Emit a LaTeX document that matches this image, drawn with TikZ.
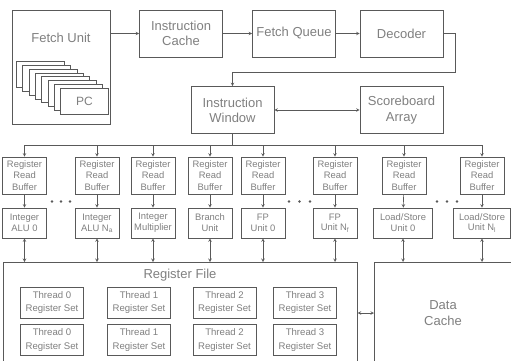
\documentclass[tikz,border=0pt]{standalone}
\usepackage{fontspec}
\setmainfont{Liberation Sans}
\usetikzlibrary{positioning}

\begin{document}
\begin{tikzpicture}[x=1pt,y=-1pt,>=stealth,line width=0.6pt,draw=black!65,
      every node/.style={text=black!50,inner sep=0pt,align=center},
      big node/.style={draw=black!65,minimum width=83pt,minimum height=47pt,font=\fontsize{13}{15.3}\selectfont},
      buffer node/.style={draw=black!65,minimum width=44pt,minimum height=37pt,font=\fontsize{9.4}{11.8}\selectfont},
      unit node/.style={draw=black!65,minimum height=30pt,font=\fontsize{9.4}{10.8}\selectfont},
      thread node/.style={draw=black!65,minimum width=63pt,minimum height=31pt,font=\fontsize{9.6}{13.3}\selectfont},
      pc node/.style={draw=black!65,fill=white,minimum width=48pt,minimum height=26pt,anchor=north west,font=\fontsize{12}{14}\selectfont}]
      \clip (0,0) rectangle (511,360);
      \fill[white] (0,0) rectangle (511,360);

      % front end
      \node[draw=black!65,minimum width=98pt,minimum height=114pt] (fu) at (61,67) {};
      \node[font=\fontsize{13}{15.3}\selectfont] (fulabel) at (61,38) {Fetch Unit};
      \foreach \i in {0,...,6}
        \node[pc node] (pc\i) at ({16+6.3*\i},{61+3.85*\i}) {};
      \node[pc node] (pc7) at ({16+6.3*7},{61+3.85*7}) {PC};

      \node[big node] (ic) at (181,33.5) {Instruction\\Cache};
      \node[big node] (fq) at (294,33.5) {Fetch Queue};
      \node[big node] (dec) at (401.5,33.5) {Decoder};
      \node[big node] (iw) at (232.5,110) {Instruction\\Window};
      \node[big node] (sa) at (401.5,110) {Scoreboard\\Array};
      \coordinate (turn) at (455,72);
      \coordinate (bus) at (232.5,145);

      \draw[->] (fu.east |- ic) -- (ic);
      \draw[->] (ic) -- (fq);
      \draw[->] (fq) -- (dec);
      \draw[->] (dec.east) -| (turn) -| (iw.north);
      \draw[<->] (iw) -- (sa);
      \draw (iw.south) -- (bus);

      % register read buffers
      \foreach \x [count=\i] in {24.5,97,153,210,263,335,404,482}
        \node[buffer node] (r\i) at (\x,175.5) {Register\\Read\\Buffer};

      % execution units
      \foreach \x/\w/\txt [count=\i] in {24.5/44/{Integer\\ALU 0},97/44/{Integer\\ALU N\textsubscript{a}},
          153/44/{Integer\\Multiplier},210/44/{Branch\\Unit},263/44/{FP\\Unit 0},
          335/44/{FP\\Unit N\textsubscript{f}},403/59/{Load/Store\\Unit 0},482/57/{Load/Store\\Unit N\textsubscript{l}}}
        \node[unit node,minimum width=\w pt] (u\i) at (\x,223) {\txt};

      % register file and data cache
      \node[draw=black!65,minimum width=354pt,minimum height=105pt,anchor=north west] (rf) at (3,262) {};
      \node[font=\fontsize{13}{15.3}\selectfont] (rflabel) at (180,275) {Register File};
      \foreach \x [count=\i from 0] in {52,139,224.5,305} {
        \node[thread node] (ta\i) at (\x,302.5) {Thread \i\\Register Set};
        \node[thread node,below=6pt of ta\i] (tb\i) {Thread \i\\Register Set};
      }
      \node[draw=black!65,minimum width=160pt,minimum height=100pt,anchor=north west] (dc) at (374,262) {};
      \node[font=\fontsize{13}{15.3}\selectfont] (dclabel) at (443,313) {Data\\Cache};

      % connections
      \draw (r1.north |- bus) -- (r8.north |- bus);
      \foreach \i in {1,...,8} {
        \draw[->] (r\i.north |- bus) -- (r\i.north);
        \draw[->] (r\i) -- (u\i);
      }
      \foreach \i in {1,...,6}
        \draw[<->] (u\i.south) -- (u\i.south |- rf.north);
      \foreach \i in {7,8}
        \draw[<->] (u\i.south) -- (u\i.south |- dc.north);
      \draw[<->] (rf.east |- dclabel) -- (dc.west |- dclabel);

      % dots
      \foreach \x in {52,61,70,289,299.5,310,437,447,457}
        \fill[black!65] (\x,201.5) circle (1.4);
    \end{tikzpicture}
\end{document}
